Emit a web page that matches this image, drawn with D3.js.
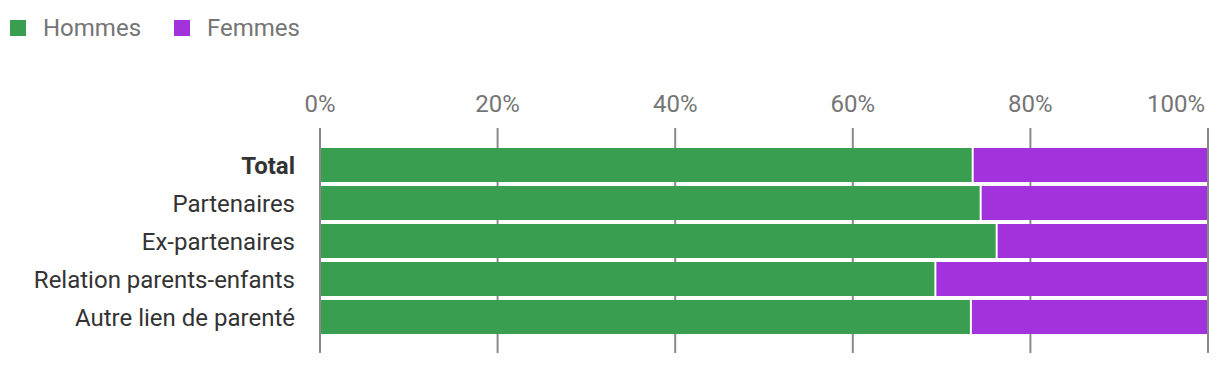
<!DOCTYPE html>
<html>
<head>
<meta charset="utf-8">
<script src="https://cdn.jsdelivr.net/npm/d3@7"></script>
<style>
  body { margin: 0; background: #fff; font-family: Roboto, "Noto Sans", sans-serif; }
</style>
</head>
<body>
<script>
(function(){

//data
var categories = ["Total", "Partenaires", "Ex-partenaires", "Relation parents-enfants", "Autre lien de parenté"];
var hommes = [73.5, 74.4, 76.2, 69.3, 73.3];
var femmes = [26.5, 25.6, 23.8, 30.7, 26.7];
var seriesNames = ["Hommes", "Femmes"];
var tickValues = [0, 20, 40, 60, 80, 100];

var colors = ["#3a9e50", "#a232dc"];

var width = 1220, height = 366;

var svg = d3.select("body").append("svg")
  .attr("width", width)
  .attr("height", height);

//scales
var x = d3.scaleLinear().domain([0, 100]).range([320, 1208]);
var y = d3.scaleBand().domain(categories).range([146, 336]).paddingInner(4 / 38).paddingOuter(2 / 38);

//legend
var legend = svg.append("g").attr("class", "legend");
var legendX = [10, 174];
seriesNames.forEach(function(name, i){
  legend.append("rect")
    .attr("x", legendX[i]).attr("y", 20)
    .attr("width", 16).attr("height", 16)
    .attr("fill", colors[i]);
  legend.append("text")
    .attr("x", legendX[i] + 33).attr("y", 36)
    .attr("font-size", 24)
    .attr("fill", "#757575")
    .text(name);
});

//gridlines / ticks
svg.append("g").selectAll("line")
  .data(tickValues)
  .enter().append("line")
  .attr("x1", function(d){ return x(d); })
  .attr("x2", function(d){ return x(d); })
  .attr("y1", 128).attr("y2", 353)
  .attr("stroke", "#8a8a8a")
  .attr("stroke-width", 2);

//tick labels
svg.append("g").selectAll("text")
  .data(tickValues)
  .enter().append("text")
  .attr("x", function(d){ return d === 100 ? x(d) - 3 : x(d); })
  .attr("y", 112)
  .attr("text-anchor", function(d){ return d === 100 ? "end" : "middle"; })
  .attr("font-size", 24)
  .attr("fill", "#757575")
  .text(function(d){ return d + "%"; });

//stacked bars
var stackData = categories.map(function(c, i){
  return { cat: c, Hommes: hommes[i], Femmes: femmes[i] };
});
var stack = d3.stack().keys(seriesNames)(stackData);

svg.append("g").selectAll("g")
  .data(stack)
  .enter().append("g")
  .attr("fill", function(d, i){ return colors[i]; })
  .selectAll("rect")
  .data(function(d){ return d; })
  .enter().append("rect")
  .attr("x", function(d){ return x(d[0]) + 1; })
  .attr("width", function(d){ return x(d[1]) - x(d[0]) - 2; })
  .attr("y", function(d){ return y(d.data.cat); })
  .attr("height", y.bandwidth());

//category labels
svg.append("g").selectAll("text")
  .data(categories)
  .enter().append("text")
  .attr("x", 295)
  .attr("y", function(d){ return y(d) + y.bandwidth() / 2 + 9; })
  .attr("text-anchor", "end")
  .attr("font-size", 24)
  .attr("font-weight", function(d, i){ return i === 0 ? "bold" : "normal"; })
  .attr("fill", "#333333")
  .text(function(d){ return d; });

})();
</script>
</body>
</html>
